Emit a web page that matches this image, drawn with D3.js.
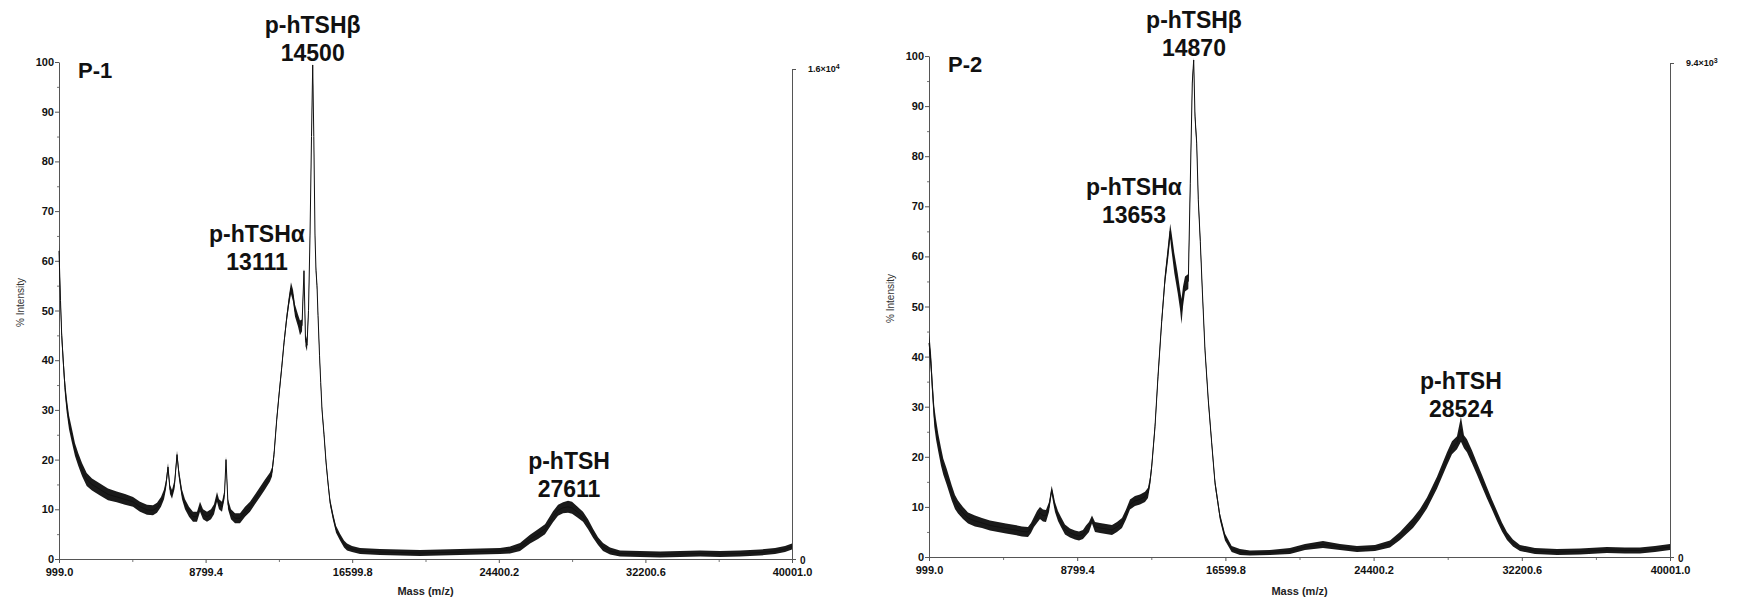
<!DOCTYPE html>
<html>
<head>
<meta charset="utf-8">
<script src="https://cdn.jsdelivr.net/npm/d3@7"></script>
<style>
  body { margin: 0; background: #fff; }
  svg { display: block; font-family: "Liberation Sans", Arial, sans-serif; }
</style>
</head>
<body>
<svg id="chart" width="1737" height="598"></svg>
<script>
// axis ticks shared by both spectra
const massTicks = [999.0, 8799.4, 16599.8, 24400.2, 32200.6, 40001.0];
const pctTicks = [0, 10, 20, 30, 40, 50, 60, 70, 80, 90, 100];

// P-1 spectrum: mass (Da), % intensity, half width of the noise band
const p1Mass = [999, 1079, 1143, 1238, 1318, 1409, 1531, 1675, 1850, 2026,
  2223, 2473, 2755, 3181, 3606, 4069, 4511, 4937, 5309, 5682,
  6001, 6214, 6426, 6586, 6692, 6799, 6905, 7012, 7145, 7278,
  7384, 7544, 7704, 7916, 8129, 8342, 8502, 8662, 8874, 9087,
  9247, 9406, 9513, 9672, 9805, 9885, 9992, 10151, 10364, 10630,
  10896, 11162, 11428, 11694, 11960, 12226, 12332, 12439, 12583, 12705,
  12849, 12971, 13115, 13237, 13343, 13450, 13556, 13716, 13822, 13929,
  14035, 14115, 14195, 14275, 14355, 14435, 14499, 14557, 14621, 14674,
  14727, 14781, 14861, 14925, 14994, 15101, 15207, 15313, 15420, 15580,
  15739, 15952, 16165, 16324, 16590, 17016, 18080, 19145, 20209, 21273,
  22337, 23401, 24465, 24998, 25530, 26062, 26487, 26860, 27285, 27552,
  27818, 28084, 28297, 28563, 28882, 29148, 29414, 29680, 29946, 30319,
  30851, 31915, 32979, 34043, 35107, 36171, 37235, 38300, 39098, 39630,
  40001];
const p1Int = [62, 52, 45, 39, 34.5, 31, 27.5, 25, 22, 20,
  18, 16, 15, 14, 13, 12.5, 12, 11.5, 10.5, 9.9,
  9.8, 10.3, 11.5, 13, 15, 18.5, 14, 13, 15, 21,
  17, 13, 11, 9.5, 8.5, 8.5, 10.5, 9, 8.5, 9,
  10, 12.5, 11, 10.5, 13, 20, 11, 9, 8.2, 8.2,
  9.5, 10.5, 12, 13.5, 15, 16.5, 17.5, 21, 28, 33,
  38.5, 43.5, 48.5, 52, 54.5, 53, 50, 48, 46.5, 47,
  58, 44, 43, 50, 65, 85, 99.4, 85, 65, 58,
  55, 49, 41, 35.5, 30, 25, 19.5, 15.3, 11.5, 8.5,
  6, 4.4, 3, 2.4, 2, 1.6, 1.4, 1.3, 1.2, 1.3,
  1.4, 1.5, 1.6, 1.8, 2.4, 4, 5, 6, 8.5, 9.8,
  10.3, 10.5, 10.3, 9.5, 8.5, 7, 5.2, 3.6, 2.4, 1.6,
  1.1, 1, 0.9, 1, 1.1, 1, 1.1, 1.3, 1.6, 2,
  2.5];
const p1Noise = [1.5, 1.5, 1.5, 1.5, 1.5, 1.5, 1.4, 1.4, 1.3, 1.3,
  1.3, 1.3, 1.2, 1.2, 1.2, 1.1, 1.1, 1.0, 1.0, 1.0,
  1.0, 1.0, 1.0, 1.0, 0.9, 0.8, 0.9, 0.9, 0.9, 0.8,
  0.9, 1.0, 1.0, 1.0, 1.0, 1.0, 1.0, 1.0, 1.0, 1.0,
  1.0, 1.0, 1.0, 1.0, 0.9, 0.6, 1.0, 1.0, 1.0, 1.0,
  1.0, 1.0, 1.0, 1.0, 1.0, 0.9, 0.9, 0.9, 0.8, 0.8,
  0.8, 0.8, 0.9, 1.0, 1.2, 1.2, 1.2, 1.2, 1.5, 1.2,
  0.5, 1.2, 1.2, 0.8, 0.6, 0.5, 0.4, 0.5, 0.6, 0.8,
  0.8, 0.8, 0.7, 0.7, 0.7, 0.7, 0.7, 0.7, 0.7, 0.7,
  0.7, 0.7, 0.7, 0.7, 0.6, 0.6, 0.6, 0.6, 0.6, 0.6,
  0.6, 0.6, 0.6, 0.7, 0.8, 0.9, 1.0, 1.0, 1.1, 1.1,
  1.1, 1.2, 1.2, 1.1, 1.0, 1.0, 0.9, 0.8, 0.8, 0.7,
  0.6, 0.6, 0.6, 0.6, 0.6, 0.6, 0.6, 0.6, 0.6, 0.6,
  0.6];

// P-2 spectrum
const p2Mass = [999, 1052, 1104, 1173, 1278, 1367, 1488, 1631, 1752, 1931,
  2194, 2367, 2525, 2788, 3052, 3420, 3788, 4209, 4630, 5052,
  5525, 5894, 6209, 6367, 6525, 6683, 6841, 6999, 7157, 7315,
  7457, 7552, 7630, 7788, 7946, 8157, 8420, 8683, 8894, 9104,
  9262, 9420, 9578, 9736, 9999, 10315, 10631, 10894, 11157, 11368,
  11578, 11841, 12104, 12367, 12525, 12630, 12720, 12894, 13052, 13246,
  13420, 13594, 13694, 13762, 13910, 14089, 14210, 14289, 14368, 14473,
  14647, 14752, 14857, 14931, 14999, 15089, 15173, 15278, 15384, 15526,
  15699, 15878, 16052, 16315, 16578, 16930, 17367, 17894, 18946, 19999,
  20788, 21736, 22630, 23525, 24472, 25262, 25788, 26472, 26841, 27209,
  27735, 28262, 28525, 28788, 28998, 29156, 29314, 29577, 29841, 30104,
  30367, 30630, 30894, 31157, 31420, 31736, 32104, 32894, 34052, 35262,
  36683, 37630, 38420, 39210, 40001];
const p2Int = [42.7, 41, 38.7, 34, 28, 25.5, 22.8, 20, 18, 16,
  12.8, 11, 10, 8.8, 7.8, 7.2, 6.8, 6.3, 6, 5.7,
  5.4, 5.1, 5, 5.8, 7, 8, 8.8, 8.3, 8.2, 10,
  13.4, 11.5, 10, 8.2, 7, 5.5, 4.8, 4.4, 4.2, 4.5,
  5.3, 6, 7.5, 6, 5.8, 5.6, 5.4, 6, 6.8, 8.5,
  10.5, 11.2, 11.5, 12, 12.8, 15, 18, 26, 36, 47,
  55.5, 61.3, 65, 63, 58.7, 54.7, 51.5, 49, 52, 54.5,
  55, 74.6, 94.6, 99.2, 88, 82.6, 71.3, 63, 53.3, 41.3,
  31.3, 22.8, 14.8, 8, 4, 1.6, 1, 0.8, 0.9, 1.2,
  2, 2.5, 2, 1.6, 1.8, 2.6, 4.2, 6.8, 8.6, 10.8,
  14.8, 19.6, 21.8, 22.8, 25.5, 23, 22.2, 20, 17.6, 15.2,
  12.8, 10.5, 8.2, 6, 4.2, 2.8, 1.8, 1.2, 1, 1.1,
  1.4, 1.3, 1.3, 1.6, 2];
const p2Noise = [2.0, 2.0, 2.0, 2.0, 2.0, 2.0, 1.8, 1.8, 1.6, 1.6,
  1.5, 1.4, 1.3, 1.2, 1.1, 1.1, 1.0, 1.0, 1.0, 1.0,
  1.0, 1.0, 1.0, 1.0, 1.0, 1.2, 1.2, 1.2, 1.2, 1.0,
  0.8, 1.0, 1.0, 1.0, 1.0, 1.0, 0.9, 0.9, 0.9, 0.9,
  1.0, 1.0, 0.8, 1.0, 1.0, 1.0, 1.0, 1.0, 1.0, 1.0,
  1.0, 1.0, 1.0, 1.0, 1.0, 0.9, 0.9, 0.9, 1.0, 1.0,
  1.2, 1.5, 1.5, 1.8, 2.0, 2.0, 2.0, 2.5, 2.0, 1.5,
  1.5, 1.2, 0.8, 0.5, 1.0, 1.0, 1.0, 1.0, 0.9, 0.8,
  0.8, 0.8, 0.8, 0.7, 0.7, 0.6, 0.6, 0.5, 0.5, 0.6,
  0.6, 0.7, 0.6, 0.6, 0.6, 0.7, 0.8, 1.0, 1.0, 1.1,
  1.2, 1.3, 1.3, 1.3, 2.5, 1.3, 1.3, 1.3, 1.2, 1.2,
  1.1, 1.0, 1.0, 0.9, 0.8, 0.7, 0.6, 0.6, 0.6, 0.6,
  0.6, 0.6, 0.6, 0.6, 0.6];

// peak labels: name, mass text, anchor mass, anchor % (baseline of the number)
const p1PeakNames = ['p-hTSHβ', 'p-hTSHα', 'p-hTSH'];
const p1PeakMass = ['14500', '13111', '27611'];
const p1PeakAtMass = [14499, 11535, 28136];
const p1PeakAtPct = [100.2, 58.1, 12.5];
const p2PeakNames = ['p-hTSHβ', 'p-hTSHα', 'p-hTSH'];
const p2PeakMass = ['14870', '13653', '28524'];
const p2PeakAtMass = [14946, 11788, 28998];
const p2PeakAtPct = [100, 66.7, 27.9];

const p1MaxCounts = 1.6e4;
const p2MaxCounts = 9.4e3;

const panels = [
  { name: 'P-1', mass: p1Mass, int: p1Int, noise: p1Noise, maxCounts: p1MaxCounts, exp: '4', mant: '1.6',
    peakNames: p1PeakNames, peakMass: p1PeakMass, peakAtMass: p1PeakAtMass, peakAtPct: p1PeakAtPct,
    left: 59, right: 792, top: 62, bottom: 559 },
  { name: 'P-2', mass: p2Mass, int: p2Int, noise: p2Noise, maxCounts: p2MaxCounts, exp: '3', mant: '9.4',
    peakNames: p2PeakNames, peakMass: p2PeakMass, peakAtMass: p2PeakAtMass, peakAtPct: p2PeakAtPct,
    left: 929, right: 1670, top: 56, bottom: 557 },
];

const svg = d3.select('#chart');

function styleAxis(g) {
  g.select('.domain').attr('stroke', '#555');
  g.selectAll('.tick line').attr('stroke', '#555');
  g.selectAll('.tick text')
    .attr('fill', '#111')
    .attr('font-size', 11)
    .attr('font-weight', 'bold');
}

function drawPanel(p) {
  const g = svg.append('g');
  const x = d3.scaleLinear().domain([999, 40001]).range([p.left, p.right]);
  const y = d3.scaleLinear().domain([0, 100]).range([p.bottom, p.top]);
  const yCounts = d3.scaleLinear().domain([0, p.maxCounts]).range([p.bottom, p.top + 7]);

  // minor ticks between the labelled ones
  const massMinor = d3.range(massTicks.length - 1).map((i) => (massTicks[i] + massTicks[i + 1]) / 2);
  const pctMinor = pctTicks.slice(0, -1).map((v) => v + 5);

  g.append('g')
    .attr('transform', `translate(0,${p.bottom})`)
    .call(d3.axisBottom(x).tickValues(massMinor).tickSize(3).tickFormat(''))
    .call((a) => a.select('.domain').remove())
    .call((a) => a.selectAll('line').attr('stroke', '#777'));
  g.append('g')
    .attr('transform', `translate(${p.left},0)`)
    .call(d3.axisLeft(y).tickValues(pctMinor).tickSize(2).tickFormat(''))
    .call((a) => a.select('.domain').remove())
    .call((a) => a.selectAll('line').attr('stroke', '#777'));

  g.append('g')
    .attr('transform', `translate(0,${p.bottom})`)
    .call(d3.axisBottom(x).tickValues(massTicks).tickSize(4).tickPadding(5)
      .tickSizeOuter(0).tickFormat((d) => d.toFixed(1)))
    .call(styleAxis);

  g.append('g')
    .attr('transform', `translate(${p.left},0)`)
    .call(d3.axisLeft(y).tickValues(pctTicks).tickSize(4).tickPadding(1).tickSizeOuter(0))
    .call(styleAxis);

  const right = g.append('g')
    .attr('transform', `translate(${p.right},0)`)
    .call(d3.axisRight(yCounts).tickValues([0, p.maxCounts]).tickSize(4).tickPadding(4).tickSizeOuter(0))
    .call(styleAxis);
  right.selectAll('.tick text')
    .filter((d) => d > 0)
    .attr('font-size', 9)
    .attr('dx', 8)
    .text(null)
    .call((t) => {
      t.append('tspan').text(p.mant + '×10');
      t.append('tspan').attr('font-size', 7).attr('dy', '-0.45em').text(p.exp);
    });
  right.selectAll('.tick text').filter((d) => d === 0)
    .attr('font-size', 10).attr('dy', '0.45em').attr('dx', 0);

  // spectrum: noise band plus centre trace
  const band = d3.area()
    .x((d, i) => x(p.mass[i]))
    .y0((d, i) => y(Math.max(0, p.int[i] - p.noise[i])))
    .y1((d, i) => y(p.int[i] + p.noise[i]));
  const trace = d3.line()
    .x((d, i) => x(p.mass[i]))
    .y((d, i) => y(p.int[i]));

  g.append('path')
    .datum(p.int)
    .attr('d', band)
    .attr('fill', '#1a1a1a');
  g.append('path')
    .datum(p.int)
    .attr('d', trace)
    .attr('fill', 'none')
    .attr('stroke', '#111')
    .attr('stroke-width', 1);

  // panel tag
  g.append('text')
    .attr('x', p.left + 19)
    .attr('y', p.top + 16)
    .attr('font-size', 22)
    .attr('font-weight', 'bold')
    .attr('fill', '#111')
    .text(p.name);

  // peak annotations
  p.peakNames.forEach((nm, i) => {
    const cx = x(p.peakAtMass[i]);
    const by = y(p.peakAtPct[i]);
    g.append('text')
      .attr('x', cx).attr('y', by - 28)
      .attr('text-anchor', 'middle')
      .attr('font-size', 23).attr('font-weight', 'bold').attr('fill', '#111')
      .text(nm);
    g.append('text')
      .attr('x', cx).attr('y', by)
      .attr('text-anchor', 'middle')
      .attr('font-size', 23).attr('font-weight', 'bold').attr('fill', '#111')
      .text(p.peakMass[i]);
  });

  // axis titles
  g.append('text')
    .attr('transform', `translate(${p.left - 35},${(p.top + p.bottom) / 2 - 8}) rotate(-90)`)
    .attr('text-anchor', 'middle')
    .attr('font-size', 10)
    .attr('fill', '#333')
    .text('% Intensity');
  g.append('text')
    .attr('x', (p.left + p.right) / 2)
    .attr('y', 595)
    .attr('text-anchor', 'middle')
    .attr('font-size', 11)
    .attr('font-weight', 'bold')
    .attr('fill', '#222')
    .text('Mass (m/z)');
}

panels.forEach(drawPanel);
</script>
</body>
</html>
